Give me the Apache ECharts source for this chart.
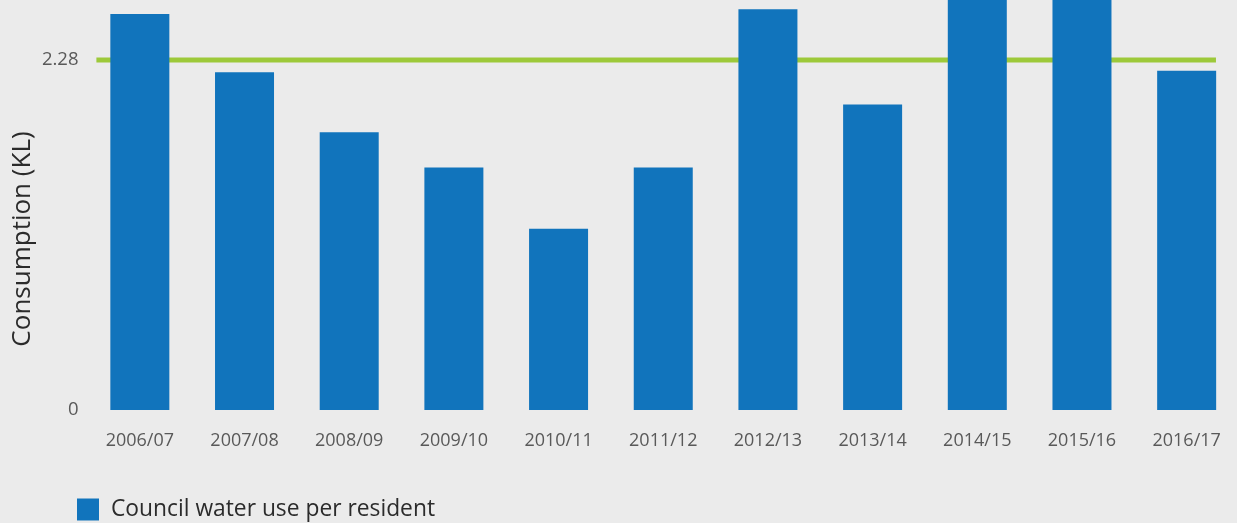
<!DOCTYPE html>
<html><head><meta charset="utf-8">
<script src="https://cdn.jsdelivr.net/npm/echarts@6/dist/echarts.min.js"></script>
<style>html,body{margin:0;padding:0;background:#ebebeb}#c{width:1237px;height:523px}</style>
</head><body><div id="c"></div>
<script>
const categories = ['2006/07','2007/08','2008/09','2009/10','2010/11','2011/12','2012/13','2013/14','2014/15','2015/16','2016/17'];
const waterUse = [2.58, 2.20, 1.81, 1.58, 1.18, 1.58, 2.61, 1.99, 2.80, 2.78, 2.21];
const targetValue = 2.28;
const targetLineExtent = [-0.415, 10.28];
const yTickValues = [0, 2.28];

const chart = echarts.init(document.getElementById('c'));
const font = '"Open Sans", sans-serif';
chart.setOption({
  backgroundColor: '#ebebeb',
  animation: false,
  grid: {left: 87.5, top: 0, width: 1151.5, bottom: 113, outerBoundsMode: 'none', containLabel: false},
  legend: {
    left: 72, top: 493, itemWidth: 22, itemHeight: 22, itemGap: 10,
    data: [{name: 'Council water use per resident', icon: 'rect'}],
    textStyle: {fontFamily: font, fontSize: 22.8, color: '#2b2b2b', padding: [0,0,0,7]}
  },
  xAxis: [{
    type: 'category', data: categories,
    axisLine: {show: false}, axisTick: {show: false},
    axisLabel: {fontFamily: font, fontSize: 18, color: '#595959', margin: 22}
  }, {
    type: 'value', min: -0.5, max: 10.5, show: false
  }],
  yAxis: {
    type: 'value', min: 0, max: 2.671,
    name: 'Consumption (KL)', nameLocation: 'middle', nameRotate: 90, nameGap: 52, nameMoveOverlap: false,
    nameTextStyle: {fontFamily: font, fontSize: 26, color: '#2b2b2b', padding: [0, 68, 0, 0]},
    axisLine: {show: false}, axisTick: {show: false}, splitLine: {show: false},
    axisLabel: {customValues: yTickValues, fontFamily: font, fontSize: 18.5, color: '#595959', margin: 9,
      formatter: v => v === 0 ? '0' : v.toFixed(2)}
  },
  series: [{
    name: 'Council water use per resident', type: 'bar', data: waterUse,
    barWidth: 59, itemStyle: {color: '#1174bc'}, clip: true, z: 3
  }, {
    type: 'line', xAxisIndex: 1, symbol: 'none', silent: true, z: 2,
    lineStyle: {color: '#9dc93a', width: 5},
    data: targetLineExtent.map(x => [x, targetValue])
  }]
});
</script></body></html>
